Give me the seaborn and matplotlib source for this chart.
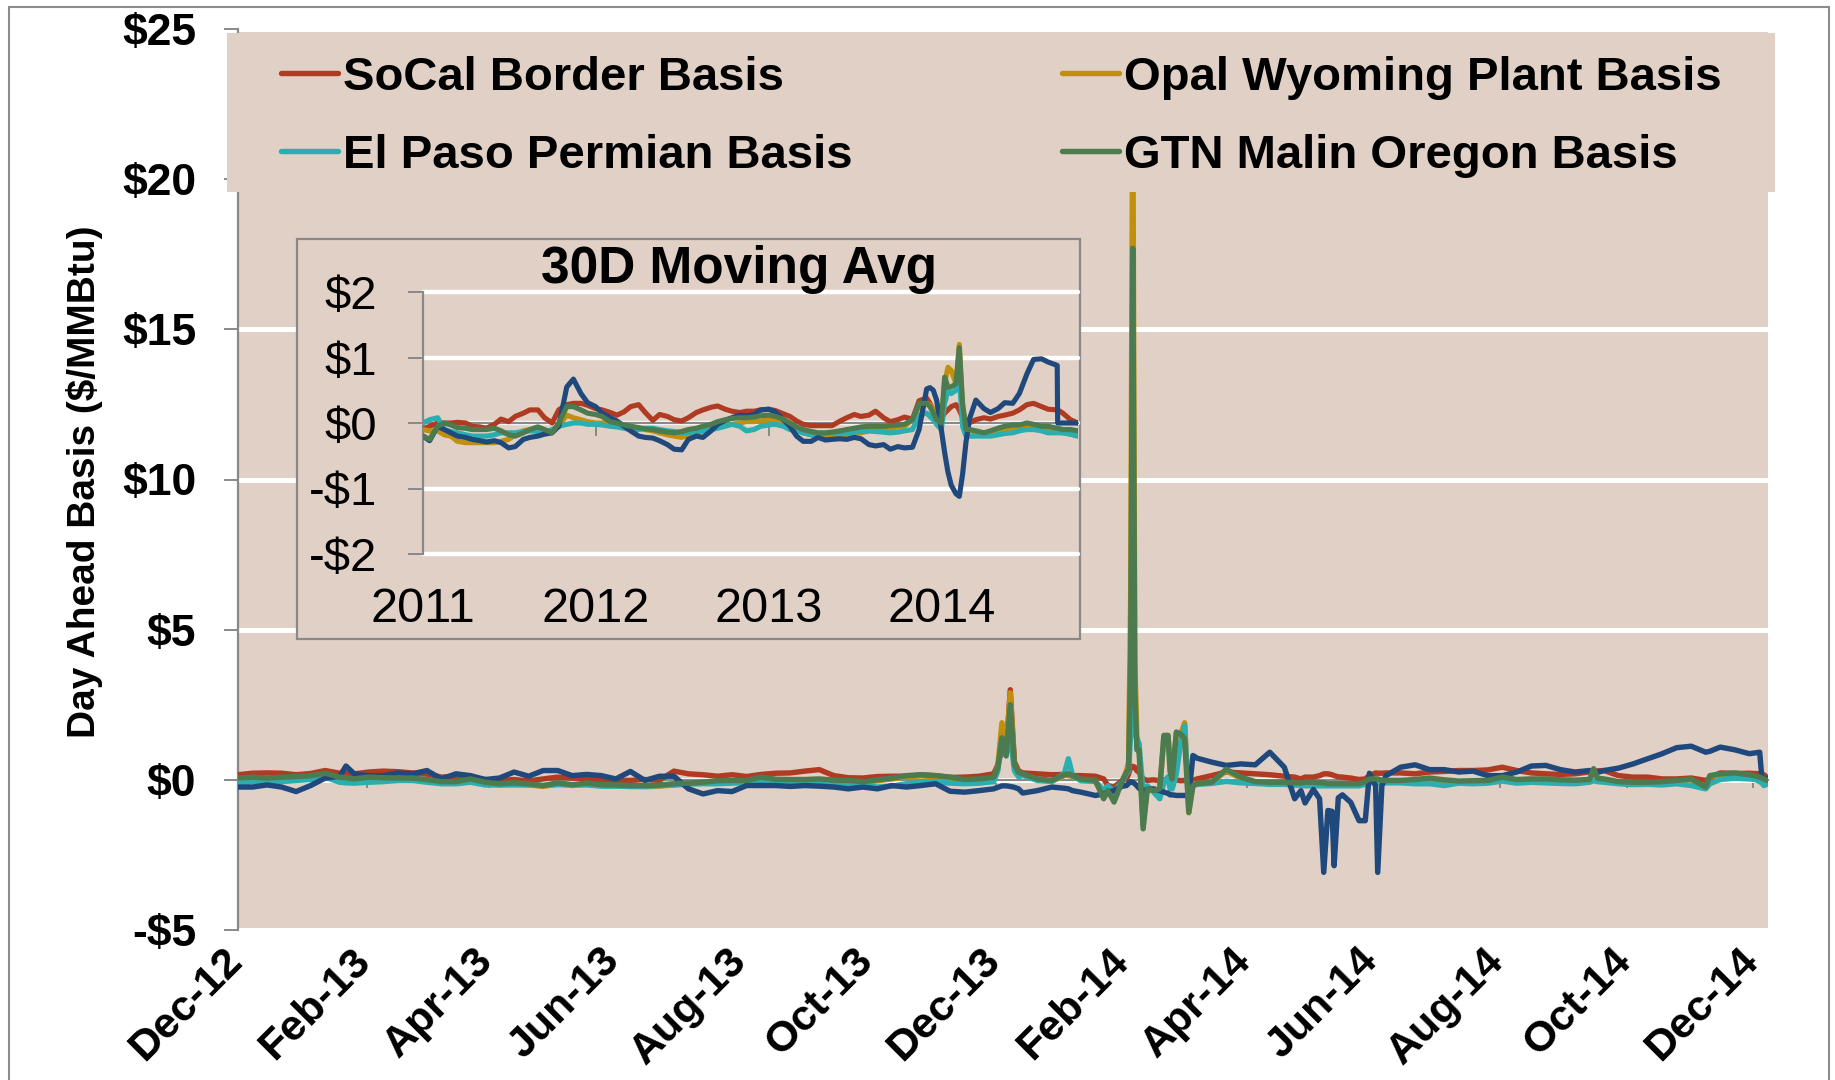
import numpy as np
import pandas as pd
import matplotlib
matplotlib.use("Agg")
import matplotlib.pyplot as plt
from matplotlib.patches import Rectangle
from matplotlib.transforms import ScaledTranslation
import seaborn as sns

# ---------------------------------------------------------------- main chart data
main_start = "2012-12-01"
# days after 2012-12-01
main_days = [
    0, 7, 14, 21, 28, 35, 42, 49, 52, 56,
    63, 70, 77, 84, 91, 98, 105, 112, 119, 126,
    133, 140, 147, 154, 161, 168, 175, 182, 189,
    196, 203, 210, 217, 224, 231, 238, 245, 252, 259,
    266, 273, 280, 287, 294, 301, 308, 315, 322, 329,
    336, 343, 350, 357, 364,
    366, 368, 370, 372, 374, 376,
    378, 385, 392, 398, 400, 402, 406, 413, 417, 419,
    422, 426, 428, 429, 430, 431, 432, 433, 434, 436,
    438, 441, 444, 446, 448, 449, 450, 452, 454, 456,
    458, 460, 462, 469, 476, 483, 490, 497, 504, 509,
    512, 514, 518, 521, 523, 525, 527, 528, 530, 532,
    536, 540, 543, 545, 548, 549, 551, 553, 560,
    567, 574, 581, 588, 595, 602, 609, 616, 623, 630,
    637, 644, 651, 653, 655, 658, 665, 672, 679, 686,
    693, 700, 707, 709, 714, 721, 728, 731, 733, 734,
    735, 737,
]
socal_main = [
    0.17, 0.22, 0.23, 0.22, 0.17, 0.21, 0.31, 0.22, 0.21, 0.20,
    0.26, 0.29, 0.27, 0.23, 0.19, 0.09, 0.12, 0.09, 0.01, -0.02,
    0.01, -0.04, 0.03, 0.09, 0.06, 0.03, 0.01, -0.02, -0.02,
    0.01, -0.02, 0.29, 0.20, 0.17, 0.12, 0.17, 0.11, 0.18, 0.22,
    0.23, 0.29, 0.34, 0.14, 0.07, 0.06, 0.11, 0.12, 0.12, 0.16,
    0.14, 0.08, 0.09, 0.12, 0.20,
    0.50, 1.00, 0.90, 3.00, 0.60, 0.30,
    0.23, 0.20, 0.17, 0.18, 0.14, 0.14, 0.14, 0.12, 0.03, -0.19,
    -0.24, -0.02, 0.03, 0.20, 0.42, 0.45, 0.42, 0.30, 0.26, 0.03,
    -0.02, 0.00, -0.03, 0.00, -0.02, -0.01, -0.02, 0.00, -0.03, -0.02,
    -0.02, -0.02, 0.03, 0.14, 0.26, 0.23, 0.20, 0.17, 0.12, 0.09,
    0.03, 0.09, 0.09, 0.14, 0.20, 0.20, 0.17, 0.14, 0.10, 0.09,
    0.06, 0.01, 0.03, 0.14, 0.23, 0.22, 0.22, 0.23, 0.23,
    0.20, 0.26, 0.28, 0.31, 0.31, 0.33, 0.42, 0.31, 0.23, 0.20,
    0.18, 0.20, 0.26, 0.28, 0.30, 0.31, 0.14, 0.09, 0.09, 0.03,
    0.03, 0.06, -0.02, 0.05, 0.23, 0.21, 0.22, 0.21, 0.20, 0.18,
    0.17, 0.06,
]
opal_main = [
    0.03, 0.06, 0.04, 0.07, 0.08, 0.11, 0.19, 0.06, 0.04, 0.00,
    0.06, 0.04, 0.03, 0.03, -0.02, -0.09, -0.09, 0.00, -0.11, -0.17,
    -0.14, -0.17, -0.22, -0.14, -0.19, -0.15, -0.19, -0.20, -0.22,
    -0.23, -0.21, -0.17, -0.14, -0.11, -0.06, -0.05, -0.05, 0.05, -0.01,
    -0.02, -0.02, 0.00, -0.04, -0.05, -0.09, -0.03, 0.03, 0.10, 0.13,
    0.10, 0.05, -0.02, 0.00, 0.06,
    0.45, 1.90, 0.90, 2.90, 0.50, 0.25,
    0.17, 0.00, -0.05, 0.14, 0.17, 0.11, 0.00, -0.05, -0.55, -0.24,
    -0.65, -0.05, 0.30, 0.60, 6.00, 23.0, 4.00, 1.30, 1.20, -1.50,
    -0.30, -0.35, -0.30, 1.40, 1.45, 0.60, 0.10, 1.55, 1.50, 1.90,
    -1.10, -0.15, -0.12, -0.10, 0.30, 0.05, -0.09, -0.11, -0.11, -0.13,
    -0.13, -0.11, -0.11, -0.13, -0.13, -0.16, -0.16, -0.16, -0.16, -0.16,
    -0.16, -0.16, -0.09, 0.00, 0.00, 0.00, -0.05, -0.05, -0.05,
    -0.02, 0.03, -0.03, -0.07, -0.06, -0.05, 0.06, -0.02, 0.00, 0.00,
    -0.03, -0.04, -0.02, 0.20, 0.02, 0.00, -0.09, -0.11, -0.11, -0.09,
    -0.05, 0.00, -0.27, 0.11, 0.17, 0.20, 0.14, 0.09, 0.06, 0.03,
    0.00, -0.05,
]
elpaso_main = [
    -0.13, -0.06, -0.08, -0.06, -0.02, 0.01, 0.09, -0.08, -0.10, -0.11,
    -0.08, -0.06, -0.02, -0.02, -0.08, -0.13, -0.13, -0.08, -0.17, -0.17,
    -0.17, -0.17, -0.19, -0.16, -0.16, -0.17, -0.21, -0.21, -0.22,
    -0.21, -0.19, -0.17, -0.13, -0.13, -0.13, -0.11, -0.10, -0.08, -0.06,
    -0.06, -0.04, -0.06, -0.10, -0.13, -0.19, -0.24, -0.21, -0.13, -0.08,
    -0.08, -0.11, -0.13, -0.11, -0.06,
    0.30, 1.40, 0.80, 1.50, 0.30, 0.10,
    0.15, -0.02, -0.05, 0.20, 0.70, 0.15, -0.03, -0.05, -0.35, -0.20,
    -0.40, -0.05, 0.20, 0.30, 1.50, 10.0, 1.50, 1.40, 1.20, -0.40,
    -0.20, -0.40, -0.63, -0.10, 0.10, -0.30, -0.30, 0.20, 1.20, 1.80,
    -0.80, -0.20, -0.15, -0.12, -0.05, -0.10, -0.12, -0.15, -0.15, -0.18,
    -0.18, -0.20, -0.20, -0.20, -0.20, -0.20, -0.20, -0.20, -0.20, -0.20,
    -0.20, -0.20, -0.15, -0.10, -0.10, -0.10, -0.10, -0.10, -0.10,
    -0.13, -0.13, -0.19, -0.11, -0.13, -0.11, -0.04, -0.11, -0.08, -0.10,
    -0.12, -0.13, -0.08, -0.03, -0.06, -0.08, -0.13, -0.16, -0.15, -0.17,
    -0.13, -0.19, -0.30, -0.13, 0.01, 0.06, 0.03, 0.01, -0.06, -0.10,
    -0.19, -0.13,
]
other_main = [
    -0.24, -0.24, -0.17, -0.24, -0.39, -0.19, 0.06, 0.12, 0.46, 0.20,
    0.14, 0.14, 0.23, 0.20, 0.31, 0.03, 0.20, 0.14, 0.01, 0.06,
    0.26, 0.12, 0.31, 0.31, 0.14, 0.18, 0.14, 0.03, 0.28,
    -0.02, 0.12, 0.12, -0.30, -0.47, -0.36, -0.39, -0.19, -0.19, -0.19,
    -0.22, -0.19, -0.21, -0.24, -0.30, -0.24, -0.30, -0.19, -0.24, -0.19,
    -0.13, -0.38, -0.41, -0.36, -0.30,
    -0.25, -0.20, -0.20, -0.22, -0.25, -0.30,
    -0.44, -0.36, -0.24, -0.28, -0.30, -0.36, -0.41, -0.52, -0.47, -0.41,
    -0.36, -0.21, -0.19, -0.12, -0.06, -0.08, -0.13, -0.20, -0.28, -0.36,
    -0.32, -0.30, -0.36, -0.41, -0.45, -0.50, -0.50, -0.52, -0.52, -0.52,
    -0.52, 0.81, 0.72, 0.59, 0.48, 0.53, 0.50, 0.92, 0.42, -0.63,
    -0.36, -0.77, -0.32, -0.63, -3.08, -1.02, -1.05, -2.86, -0.60, -0.50,
    -0.75, -1.36, -1.36, 0.22, -0.20, -3.08, -0.20, 0.14, 0.42,
    0.50, 0.34, 0.34, 0.26, 0.29, 0.14, 0.14, 0.26, 0.46, 0.48,
    0.34, 0.26, 0.31, 0.20, 0.25, 0.31, 0.39, 0.53, 0.70, 0.87,
    1.07, 1.12, 0.92, 0.95, 1.09, 1.00, 0.87, 0.90, 0.92, 0.09,
    0.05, 0.03,
]
gtn_main = [
    0.06, 0.09, 0.06, 0.09, 0.11, 0.14, 0.22, 0.09, 0.07, 0.03,
    0.09, 0.07, 0.06, 0.06, 0.01, -0.06, -0.06, 0.03, -0.08, -0.13,
    -0.10, -0.13, -0.19, -0.10, -0.16, -0.11, -0.16, -0.17, -0.19,
    -0.19, -0.17, -0.13, -0.11, -0.08, -0.03, -0.02, -0.02, 0.09, 0.02,
    0.01, 0.01, 0.03, -0.01, -0.02, -0.06, 0.00, 0.06, 0.14, 0.17,
    0.14, 0.09, 0.01, 0.03, 0.09,
    0.40, 1.40, 0.80, 2.50, 0.50, 0.25,
    0.20, 0.03, -0.02, 0.17, 0.20, 0.14, 0.03, -0.02, -0.63, -0.36,
    -0.74, -0.02, 0.26, 0.35, 4.00, 17.7, 3.00, 1.00, 1.00, -1.63,
    -0.30, -0.36, -0.30, 1.48, 1.48, 0.26, 0.03, 1.59, 1.53, 1.37,
    -1.08, -0.19, -0.13, -0.08, 0.35, 0.09, -0.06, -0.08, -0.08, -0.10,
    -0.10, -0.08, -0.08, -0.10, -0.10, -0.13, -0.13, -0.13, -0.13, -0.13,
    -0.13, -0.13, -0.06, 0.03, 0.03, 0.03, -0.02, -0.02, -0.02,
    0.01, 0.06, 0.00, -0.04, -0.03, -0.02, 0.09, 0.01, 0.03, 0.03,
    0.00, -0.01, 0.01, 0.37, 0.05, 0.03, -0.06, -0.08, -0.08, -0.06,
    -0.02, 0.03, -0.24, 0.14, 0.20, 0.23, 0.17, 0.12, 0.09, 0.06,
    0.03, -0.02,
]
main_end_day = 737
main_xtick_dates = ["2012-12-01", "2013-02-01", "2013-04-01", "2013-06-01",
                    "2013-08-01", "2013-10-01", "2013-12-01", "2014-02-01",
                    "2014-04-01", "2014-06-01", "2014-08-01", "2014-10-01",
                    "2014-12-01"]
main_xtick_labels = ["Dec-12", "Feb-13", "Apr-13", "Jun-13", "Aug-13", "Oct-13",
                     "Dec-13", "Feb-14", "Apr-14", "Jun-14", "Aug-14", "Oct-14",
                     "Dec-14"]
main_yticks = [-5, 0, 5, 10, 15, 20, 25]
main_ytick_labels = ["-$5", "$0", "$5", "$10", "$15", "$20", "$25"]

# ---------------------------------------------------------------- inset (30D moving avg)
inset_dates = [
    "2011-01-01", "2011-01-15", "2011-02-01", "2011-02-15", "2011-03-01", "2011-03-15",
    "2011-04-01", "2011-04-15", "2011-05-01", "2011-05-15",
    "2011-06-01", "2011-06-15", "2011-07-01", "2011-07-15", "2011-08-01", "2011-08-15",
    "2011-09-01", "2011-09-15", "2011-10-01", "2011-10-15",
    "2011-11-01", "2011-11-15", "2011-12-01", "2011-12-15", "2012-01-01", "2012-01-15",
    "2012-02-01", "2012-02-15", "2012-03-01", "2012-03-15",
    "2012-04-01", "2012-04-15", "2012-05-01", "2012-05-15", "2012-06-01", "2012-06-15",
    "2012-07-01", "2012-07-15", "2012-08-01", "2012-08-15",
    "2012-09-01", "2012-09-15", "2012-10-01", "2012-10-15", "2012-11-01", "2012-11-15",
    "2012-12-01", "2012-12-15", "2013-01-01", "2013-01-15",
    "2013-02-01", "2013-02-15", "2013-03-01", "2013-03-15", "2013-04-01", "2013-04-15",
    "2013-05-01", "2013-05-15", "2013-06-01", "2013-06-15",
    "2013-07-01", "2013-07-15", "2013-08-01", "2013-08-15", "2013-09-01", "2013-09-15",
    "2013-10-01", "2013-10-15", "2013-11-01", "2013-11-15",
    "2013-12-01", "2013-12-08", "2013-12-15", "2013-12-22", "2014-01-01", "2014-01-08",
    "2014-01-15", "2014-01-22", "2014-02-01", "2014-02-08",
    "2014-02-15", "2014-02-22", "2014-03-01", "2014-03-15", "2014-04-01", "2014-04-15",
    "2014-05-01", "2014-05-15", "2014-06-01", "2014-06-15",
    "2014-07-01", "2014-07-15", "2014-08-01", "2014-08-15", "2014-09-03", "2014-09-04",
    "2014-09-15", "2014-10-01", "2014-10-17",
]
socal_ma = [
    -0.09, -0.05, 0.00, 0.00, 0.00, 0.01, 0.00, -0.05, -0.06, -0.08,
    -0.02, 0.06, 0.02, 0.10, 0.15, 0.20, 0.20, 0.08, 0.00, 0.20,
    0.28, 0.30, 0.30, 0.27, 0.22, 0.20, 0.16, 0.12, 0.17, 0.25,
    0.28, 0.16, 0.04, 0.13, 0.10, 0.05, 0.03, 0.08, 0.16, 0.20,
    0.24, 0.26, 0.21, 0.18, 0.16, 0.18, 0.18, 0.20, 0.21, 0.19,
    0.14, 0.10, 0.03, -0.02, -0.04, -0.04, -0.04, -0.04, 0.03, 0.08,
    0.13, 0.10, 0.12, 0.18, 0.08, 0.02, 0.05, 0.09, 0.06, 0.34,
    0.38, 0.30, 0.20, 0.12, 0.08, 0.15, 0.20, 0.25, 0.28, 0.20,
    0.08, 0.03, 0.00, 0.05, 0.08, 0.06, 0.10, 0.12, 0.15, 0.20,
    0.28, 0.30, 0.25, 0.21, 0.20, 0.20, 0.15, 0.05, 0.00,
]
opal_ma = [
    -0.10, -0.12, -0.12, -0.18, -0.20, -0.28, -0.30, -0.30, -0.30, -0.30,
    -0.30, -0.28, -0.25, -0.18, -0.12, -0.10, -0.10, -0.15, -0.12, -0.05,
    0.12, 0.08, 0.05, 0.02, 0.00, 0.00, 0.02, 0.00, -0.03, -0.06,
    -0.08, -0.10, -0.12, -0.15, -0.18, -0.20, -0.22, -0.18, -0.15, -0.12,
    -0.10, -0.05, -0.03, -0.02, 0.00, 0.02, 0.02, 0.03, 0.05, 0.04,
    0.00, -0.05, -0.10, -0.15, -0.18, -0.20, -0.20, -0.20, -0.20, -0.18,
    -0.16, -0.15, -0.12, -0.10, -0.10, -0.08, -0.06, -0.05, 0.05, 0.25,
    0.30, 0.28, 0.22, 0.10, 0.00, 0.60, 0.85, 0.80, 0.60, 1.20,
    0.20, 0.00, -0.10, -0.15, -0.15, -0.15, -0.14, -0.12, -0.10, -0.08,
    -0.05, -0.05, -0.08, -0.10, -0.12, -0.12, -0.15, -0.17, -0.20,
]
elpaso_ma = [
    0.00, 0.05, 0.08, -0.10, -0.13, -0.15, -0.18, -0.20, -0.20, -0.20,
    -0.18, -0.15, -0.15, -0.15, -0.13, -0.12, -0.13, -0.15, -0.10, -0.05,
    -0.02, 0.00, 0.00, -0.02, -0.02, -0.03, -0.05, -0.06, -0.08, -0.10,
    -0.10, -0.08, -0.08, -0.10, -0.12, -0.13, -0.15, -0.15, -0.13, -0.12,
    -0.10, -0.08, -0.05, -0.02, -0.05, -0.12, -0.10, -0.05, -0.03, -0.02,
    -0.05, -0.10, -0.12, -0.15, -0.18, -0.17, -0.16, -0.15, -0.15, -0.15,
    -0.14, -0.13, -0.12, -0.13, -0.14, -0.15, -0.14, -0.12, -0.10, 0.12,
    0.15, 0.10, 0.05, -0.02, -0.10, 0.30, 0.50, 0.45, 0.50, 0.70,
    -0.05, -0.20, -0.20, -0.20, -0.20, -0.20, -0.18, -0.16, -0.15, -0.12,
    -0.10, -0.10, -0.12, -0.15, -0.15, -0.15, -0.15, -0.17, -0.20,
]
gtn_ma = [
    -0.20, -0.25, -0.05, 0.00, -0.03, -0.07, -0.08, -0.10, -0.10, -0.10,
    -0.08, -0.12, -0.18, -0.20, -0.15, -0.10, -0.06, -0.10, -0.15, 0.00,
    0.25, 0.25, 0.20, 0.15, 0.13, 0.10, 0.02, 0.00, -0.03, -0.05,
    -0.07, -0.09, -0.10, -0.12, -0.14, -0.15, -0.13, -0.10, -0.08, -0.05,
    -0.02, 0.02, 0.05, 0.07, 0.08, 0.08, 0.09, 0.11, 0.12, 0.10,
    0.06, 0.00, -0.06, -0.10, -0.13, -0.15, -0.15, -0.14, -0.12, -0.10,
    -0.08, -0.06, -0.05, -0.05, -0.05, -0.04, -0.03, -0.02, 0.05, 0.30,
    0.30, 0.25, 0.15, 0.05, 0.00, 0.70, 0.55, 0.55, 0.60, 1.15,
    0.30, -0.10, -0.10, -0.12, -0.15, -0.12, -0.08, -0.05, -0.03, -0.03,
    0.00, -0.02, -0.05, -0.05, -0.08, -0.08, -0.10, -0.10, -0.12,
]
other_ma = [
    -0.20, -0.27, -0.05, -0.10, -0.15, -0.20, -0.22, -0.25, -0.27, -0.29,
    -0.27, -0.30, -0.38, -0.36, -0.25, -0.22, -0.20, -0.17, -0.15, -0.05,
    0.55, 0.67, 0.45, 0.31, 0.25, 0.15, 0.08, 0.03, -0.05, -0.12,
    -0.20, -0.22, -0.23, -0.27, -0.33, -0.40, -0.41, -0.25, -0.20, -0.22,
    -0.12, -0.02, 0.04, 0.08, 0.12, 0.11, 0.13, 0.20, 0.21, 0.17,
    0.05, -0.05, -0.20, -0.28, -0.28, -0.22, -0.26, -0.25, -0.24, -0.25,
    -0.22, -0.24, -0.33, -0.35, -0.33, -0.40, -0.36, -0.38, -0.37, -0.10,
    0.52, 0.54, 0.50, 0.35, -0.10, -0.45, -0.75, -0.95, -1.08, -1.12,
    -0.78, -0.30, 0.05, 0.35, 0.22, 0.16, 0.22, 0.31, 0.30, 0.45,
    0.75, 0.97, 0.98, 0.93, 0.88, 0.00, 0.00, 0.00, 0.00,
]
inset_start, inset_end = "2011-01-01", "2014-10-17"
inset_xtick_dates = ["2011-01-01", "2012-01-01", "2013-01-01", "2014-01-01"]
inset_xtick_labels = ["2011", "2012", "2013", "2014"]
inset_yticks = [-2, -1, 0, 1, 2]
inset_ytick_labels = ["-$2", "-$1", "$0", "$1", "$2"]

series_names = ["SoCal Border Basis", "Opal Wyoming Plant Basis",
                "El Paso Permian Basis", None, "GTN Malin Oregon Basis"]

for arr in (socal_main, opal_main, elpaso_main, other_main, gtn_main):
    assert len(arr) == len(main_days), len(arr)
for arr in (socal_ma, opal_ma, elpaso_ma, other_ma, gtn_ma):
    assert len(arr) == len(inset_dates), len(arr)

# ---------------------------------------------------------------- style
RED, GOLD, TEAL, BLUE, GREEN = "#B03B22", "#C0900C", "#2AAEB0", "#1F497D", "#4B7B4F"
TAN = "#E0D0C5"
GRAY = "#898989"
FONT = "Liberation Sans"

sns.set_style("white")
plt.rcParams["font.family"] = [FONT, "DejaVu Sans"]
plt.rcParams["axes.unicode_minus"] = False
for key in ("text.color", "axes.labelcolor", "xtick.color", "ytick.color"):
    plt.rcParams[key] = "black"
plt.rcParams["xtick.labelcolor"] = "black"
plt.rcParams["ytick.labelcolor"] = "black"

W, H = 1835, 1080
fig = plt.figure(figsize=(W / 100, H / 100), dpi=100)
fig.patch.set_facecolor("white")


def fx(px):
    return px / W


def fy(py):
    return 1 - py / H


# outer frame
fig.add_artist(Rectangle((fx(9), fy(1095)), fx(1829) - fx(9), fy(7) - fy(1095),
                         transform=fig.transFigure, facecolor="none",
                         edgecolor="#8C8C8C", lw=1.5, zorder=0))

# ---------------------------------------------------------------- main axes
AX_L, AX_R, AX_T, AX_B = 238, 1768, 29, 930
ax = fig.add_axes([fx(AX_L), fy(AX_B), fx(AX_R) - fx(AX_L), fy(AX_T) - fy(AX_B)])
ax.set_zorder(0)
ax.set_facecolor(TAN)

main_dates = pd.Timestamp(main_start) + pd.to_timedelta(main_days, unit="D")
main_vals = [socal_main, opal_main, elpaso_main, other_main, gtn_main]
colors = [RED, GOLD, TEAL, BLUE, GREEN]
handles = {}
for name, vals, col in zip(series_names, main_vals, colors):
    sns.lineplot(x=main_dates, y=vals, ax=ax, color=col, linewidth=3.9,
                 estimator=None, legend=False, zorder=3)
    ln = ax.lines[-1]
    ln.set_solid_joinstyle("round")
    if name:
        handles[name] = ln

# spines first (set_position resets the ticks)
for s in ("top", "right"):
    ax.spines[s].set_visible(False)
ax.spines["bottom"].set_position(("data", 0))
for s in ("bottom", "left"):
    ax.spines[s].set_color(GRAY)
    ax.spines[s].set_linewidth(1.6)

ax.set_xlim(pd.Timestamp(main_start), pd.Timestamp(main_start) + pd.Timedelta(days=main_end_day))
ax.set_ylim(-5, 25)
ax.set_yticks(main_yticks)
ax.set_yticklabels(main_ytick_labels, fontsize=32, fontweight="bold")
ax.set_xticks(pd.to_datetime(main_xtick_dates))
ax.set_xticklabels(main_xtick_labels, fontsize=31, fontweight="bold", rotation=45,
                   ha="right", va="center", rotation_mode="anchor")
ax.set_xlabel("")
ax.set_ylabel("Day Ahead Basis ($/MMBtu)", fontsize=28, fontweight="bold")
ax.yaxis.set_label_coords((103 - AX_L) / (AX_R - AX_L), 0.497)

ax.grid(axis="y", color="white", lw=3.6)
ax.grid(axis="x", visible=False)
ax.set_axisbelow(True)
for gl in ax.get_ygridlines():
    gl.set_clip_on(False)
ax.tick_params(axis="y", direction="out", length=10, width=1.4, color=GRAY, pad=20,
               left=True)
ax.tick_params(axis="x", direction="out", length=6, width=1.4, color=GRAY, pad=120,
               bottom=True)
for lab in ax.get_xticklabels():
    lab.set_transform(lab.get_transform() + ScaledTranslation(-2 / 100, 0, fig.dpi_scale_trans))


def axx(px):
    return (px - AX_L) / (AX_R - AX_L)


def axy(py):
    return (AX_B - py) / (AX_B - AX_T)


# legend box
ax.add_patch(Rectangle((axx(227), axy(192)), axx(1775) - axx(227), axy(33) - axy(192),
                       transform=ax.transAxes, facecolor=TAN, edgecolor="none",
                       zorder=10, clip_on=False))
leg_order = ["SoCal Border Basis", "El Paso Permian Basis",
             "Opal Wyoming Plant Basis", "GTN Malin Oregon Basis"]
leg = ax.legend([handles[n] for n in leg_order], leg_order, ncol=2, loc="center",
                bbox_to_anchor=(axx(281), axy(196), axx(1722) - axx(281), axy(37) - axy(196)),
                mode="expand", frameon=False, borderpad=0, borderaxespad=0,
                handlelength=1.2, handletextpad=0.12, labelspacing=0.72,
                prop={"family": FONT, "weight": "bold", "size": 34})
leg.set_zorder(11)

# ---------------------------------------------------------------- inset
fig.add_artist(Rectangle((fx(297), fy(639)), fx(1080) - fx(297), fy(239) - fy(639),
                         transform=fig.transFigure, facecolor=TAN, edgecolor=GRAY,
                         lw=1.6, zorder=1))
IL, IR, IT, IB = 423, 1078, 292, 554
axi = fig.add_axes([fx(IL), fy(IB), fx(IR) - fx(IL), fy(IT) - fy(IB)])
axi.set_zorder(2)
axi.set_facecolor(TAN)
inset_dt = pd.to_datetime(inset_dates)
ma_vals = [socal_ma, opal_ma, elpaso_ma, other_ma, gtn_ma]
for vals, col in zip(ma_vals, colors):
    sns.lineplot(x=inset_dt, y=vals, ax=axi, color=col, linewidth=3.7,
                 estimator=None, legend=False, zorder=3)
    axi.lines[-1].set_solid_joinstyle("round")

for s in ("top", "right"):
    axi.spines[s].set_visible(False)
axi.spines["bottom"].set_position(("data", 0))
for s in ("bottom", "left"):
    axi.spines[s].set_color(GRAY)
    axi.spines[s].set_linewidth(1.6)

axi.set_xlim(pd.Timestamp(inset_start), pd.Timestamp(inset_end))
axi.set_ylim(-2, 2)
axi.set_yticks(inset_yticks)
axi.set_yticklabels(inset_ytick_labels, fontsize=34)
axi.set_xticks(pd.to_datetime(inset_xtick_dates))
axi.set_xticklabels(inset_xtick_labels, fontsize=35)
axi.set_xlabel("")
axi.set_ylabel("")
axi.grid(axis="y", color="white", lw=3.2)
axi.grid(axis="x", visible=False)
axi.set_axisbelow(True)
for gl in axi.get_ygridlines():
    gl.set_clip_on(False)
axi.tick_params(axis="y", direction="out", length=11, width=1.4, color=GRAY, pad=22,
                left=True)
axi.tick_params(axis="x", direction="out", length=9, width=1.4, color=GRAY, pad=109,
                bottom=True)
fig.text(fx(739), fy(270), "30D Moving Avg", ha="center", va="center",
         fontsize=37, fontweight="bold", zorder=3)

fig.savefig("out.png", dpi=100, facecolor="white")
